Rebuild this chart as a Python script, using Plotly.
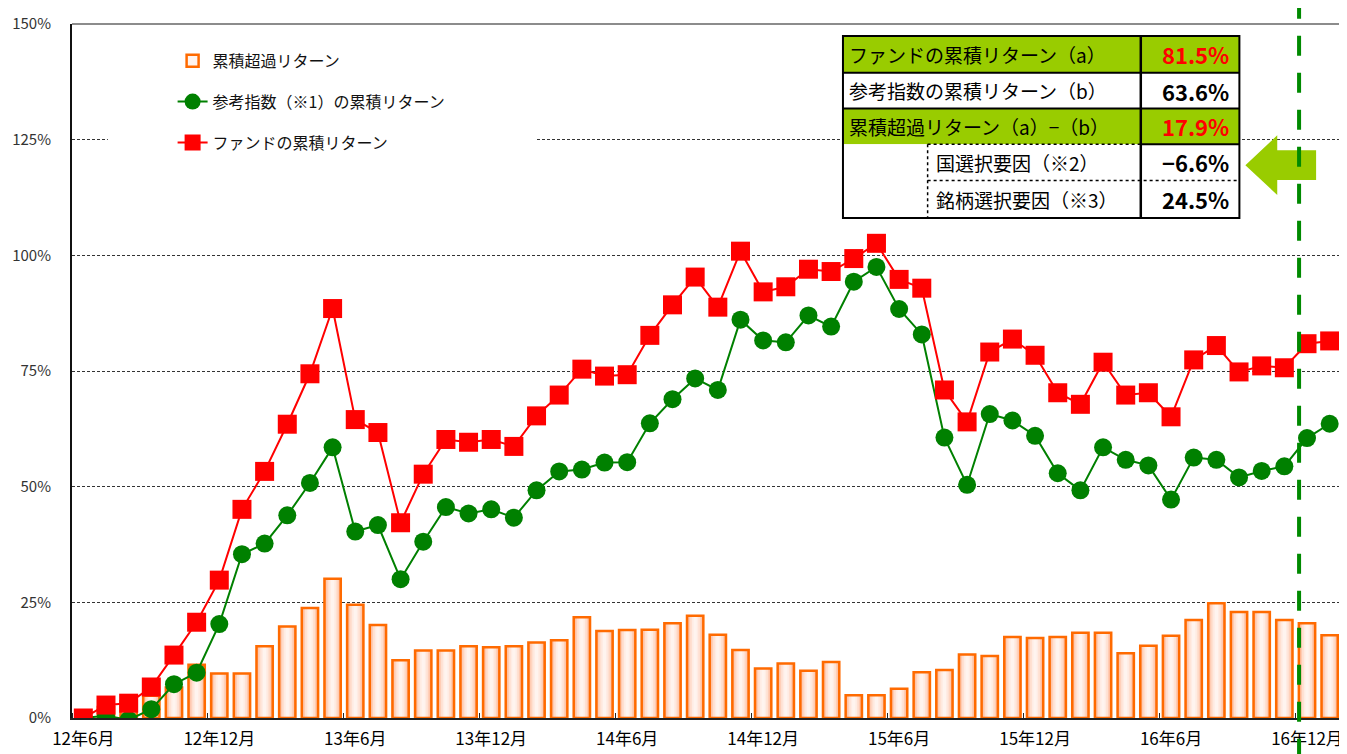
import plotly.graph_objects as go

# ---------------- data ----------------
tick_labels = ["12年6月", "12年12月", "13年6月", "13年12月", "14年6月", "14年12月",
               "15年6月", "15年12月", "16年6月", "16年12月"]

fund = [0, 2.8, 3.2, 6.7, 13.6, 20.7, 29.8, 45.1, 53.3, 63.5,
        74.4, 88.5, 64.5, 61.7, 42.2, 52.7, 60.2, 59.6, 60.2, 58.7,
        65.3, 69.8, 75.4, 73.9, 74.2, 82.7, 89.3, 95.3, 88.8, 100.9,
        92.1, 93.2, 97.0, 96.5, 99.3, 102.6, 94.8, 92.9, 70.9, 64.0,
        79.1, 81.9, 78.4, 70.3, 67.8, 76.9, 69.8, 70.3, 65.1, 77.4,
        80.5, 74.8, 76.1, 75.7, 80.9, 81.5]

benchmark = [0, 0.5, -0.4, 1.9, 7.3, 9.8, 20.3, 35.4, 37.7, 43.8,
             50.8, 58.5, 40.3, 41.7, 30.0, 38.1, 45.6, 44.2, 45.1, 43.3,
             49.2, 53.3, 53.7, 55.2, 55.3, 63.7, 68.9, 73.4, 70.9, 86.1,
             81.6, 81.2, 87.0, 84.6, 94.3, 97.5, 88.4, 82.9, 60.6, 50.4,
             65.7, 64.3, 61.0, 52.9, 49.2, 58.5, 55.8, 54.6, 47.2, 56.3,
             55.8, 52.0, 53.4, 54.4, 60.5, 63.6]

excess = [0, 2.4, 3.6, 4.8, 6.6, 11.5, 9.6, 9.6, 15.5, 19.8,
          23.8, 30.1, 24.5, 20.1, 12.5, 14.6, 14.6, 15.5, 15.3, 15.5,
          16.3, 16.8, 21.8, 18.8, 19.0, 19.1, 20.5, 22.1, 18.0, 14.7,
          10.7, 11.8, 10.2, 12.1, 4.9, 4.9, 6.3, 9.9, 10.4, 13.7,
          13.4, 17.5, 17.3, 17.5, 18.4, 18.4, 14.0, 15.6, 17.8, 21.2,
          24.8, 22.9, 22.9, 21.2, 20.5, 17.9]

y_ticks = [0, 25, 50, 75, 100, 125, 150]

table_rows = ["ファンドの累積リターン（a）", "参考指数の累積リターン（b）",
              "累積超過リターン（a）−（b）", "国選択要因（※2）", "銘柄選択要因（※3）"]
table_vals = ["81.5%", "63.6%", "17.9%", "−6.6%", "24.5%"]

n = len(fund)
xi = list(range(n))
tick_pos = list(range(0, n, 6))[:len(tick_labels)]

JP = "Noto Sans CJK JP"
OFF = 8                      # page body margin of the browser
SW, SH = 1347, 754           # screen size
SL, ST, SR, SB = 69, 20, 1343, 718   # plot area on screen
W, H = SW - OFF, SH - OFF
ML, MT = SL - OFF, ST - OFF
MR, MB = W - (SR - OFF), H - (SB - OFF)
PW, PH = SR - SL, SB - ST


def PX(px):
    return (px - SL) / PW


def PY(py):
    return (SB - py) / PH


fig = go.Figure()

# gradient layers for the bars (widest/darkest first)
BW = 0.72
layers = [(BW, "#ffb48e"), (0.58, "#ffd2bc"), (0.44, "#ffe9de"), (0.28, "#fff7f3"), (0.14, "#ffffff")]
for w, c in layers:
    fig.add_trace(go.Bar(x=xi, y=excess, width=w, marker=dict(color=c, line=dict(width=0)),
                         showlegend=False, legendgroup="g1", hoverinfo="skip"))
fig.add_trace(go.Bar(x=xi, y=excess, width=BW, name="累積超過リターン", legendgroup="g1",
                     marker=dict(color="rgba(255,150,100,0.10)",
                                 line=dict(color="#ff6a00", width=2.5))))
fig.add_trace(go.Scatter(x=xi, y=benchmark, mode="lines+markers", name="参考指数（※1）の累積リターン",
                         legendgroup="g2",
                         line=dict(color="#008000", width=2),
                         marker=dict(symbol="circle", size=18, color="#008000")))
fig.add_trace(go.Scatter(x=xi, y=fund, mode="lines+markers", name="ファンドの累積リターン",
                         legendgroup="g3",
                         line=dict(color="#ff0000", width=2),
                         marker=dict(symbol="square", size=19, color="#ff0000")))

shapes = []
# plot border (top / right) in gray
shapes.append(dict(type="path", xref="paper", yref="paper",
                   path="M0,1 L1,1 L1,0", line=dict(color="#8c8c8c", width=2), layer="between"))
# white legend area (hides the grid line like the original legend box)
shapes.append(dict(type="rect", xref="paper", yref="paper",
                   x0=PX(105), x1=PX(535), y0=PY(160), y1=PY(32),
                   fillcolor="white", line=dict(width=0), layer="above"))

# table
L, M, D, R = 843, 928, 1142, 1241
rows = [32, 69, 105, 141, 177.5, 215]
green = "#99cc00"
for k in (0, 2):
    shapes.append(dict(type="rect", xref="paper", yref="paper",
                       x0=PX(L), x1=PX(R), y0=PY(rows[k + 1]), y1=PY(rows[k]),
                       fillcolor=green, line=dict(width=0), layer="above"))
for k in (1, 3, 4):
    shapes.append(dict(type="rect", xref="paper", yref="paper",
                       x0=PX(L), x1=PX(R), y0=PY(rows[k + 1]), y1=PY(rows[k]),
                       fillcolor="white", line=dict(width=0), layer="above"))


def hline(x0, x1, y, dash="solid", w=2):
    shapes.append(dict(type="line", xref="paper", yref="paper", x0=PX(x0), x1=PX(x1),
                       y0=PY(y), y1=PY(y), line=dict(color="black", width=w, dash=dash), layer="above"))


def vline(x, y0, y1, dash="solid", w=2):
    shapes.append(dict(type="line", xref="paper", yref="paper", x0=PX(x), x1=PX(x),
                       y0=PY(y0), y1=PY(y1), line=dict(color="black", width=w, dash=dash), layer="above"))


hline(L, R, rows[1])
hline(L, R, rows[2])
hline(M, D, rows[3], dash="dot", w=1.5)
hline(D, R, rows[3])
hline(M, R, rows[4], dash="dot", w=1.5)
vline(M, rows[3], rows[5], dash="dot", w=1.5)
vline(D, rows[0], rows[5], w=2.5)
shapes.append(dict(type="rect", xref="paper", yref="paper",
                   x0=PX(L), x1=PX(R), y0=PY(rows[5]), y1=PY(rows[0]),
                   line=dict(color="black", width=2), layer="above"))

# arrow
pts = [(1247, 162), (1279, 132), (1279, 147), (1318, 147), (1318, 177), (1279, 177), (1279, 192)]
path = "M" + " L".join(f"{PX(a):.5f},{PY(b):.5f}" for a, b in pts) + " Z"
shapes.append(dict(type="path", xref="paper", yref="paper", path=path,
                   fillcolor=green, line=dict(width=0), layer="above"))

# dashed vertical marker line
vx = 53.65
xr = (-0.5, n - 0.5)
vxp = (vx - xr[0]) / (xr[1] - xr[0])
shapes.append(dict(type="line", xref="paper", yref="paper", x0=vxp, x1=vxp,
                   y0=PY(SH + 5), y1=PY(-5), line=dict(color="#008a00", width=4, dash="20px,17px"),
                   layer="above"))

annotations = []
centers = [(rows[i] + rows[i + 1]) / 2 for i in range(5)]
for i, (lab, val) in enumerate(zip(table_rows, table_vals)):
    xl = 847 if i < 3 else 934
    annotations.append(dict(xref="paper", yref="paper", x=PX(xl), y=PY(centers[i]),
                            xanchor="left", yanchor="middle", showarrow=False, text=lab,
                            font=dict(family=JP, size=19, color="black")))
    col = "#ff0000" if i in (0, 2) else "black"
    annotations.append(dict(xref="paper", yref="paper", x=PX(1233), y=PY(centers[i]),
                            xanchor="right", yanchor="middle", showarrow=False,
                            text=f"<b>{val}</b>",
                            font=dict(family=JP, size=22, color=col)))

fig.update_layout(
    width=W, height=H,
    margin=dict(l=ML, r=MR, t=MT, b=MB, pad=0),
    paper_bgcolor="white", plot_bgcolor="white",
    barmode="overlay",
    showlegend=True,
    legend=dict(x=PX(170), y=PY(40), xanchor="left", yanchor="top",
                bgcolor="rgba(255,255,255,0)", font=dict(family=JP, size=16, color="#111"),
                tracegroupgap=17, traceorder="grouped"),
    xaxis=dict(range=list(xr), tickmode="array", tickvals=tick_pos, ticktext=tick_labels,
               ticks="", showgrid=False, zeroline=False, showline=True,
               linecolor="#222", linewidth=2, tickfont=dict(family=JP, size=17, color="black"),
               ticklabelstandoff=5,
               minor=dict(tickmode="array", tickvals=[p - 0.5 for p in tick_pos],
                          ticks="inside", ticklen=5, tickcolor="#222", tickwidth=1, showgrid=False)),
    yaxis=dict(range=[0, 150], tickmode="array", tickvals=y_ticks,
               ticktext=[f"{v}%" for v in y_ticks], ticks="", showgrid=True,
               gridcolor="#333", gridwidth=1, griddash="3px,2px", zeroline=False,
               showline=True, linecolor="#111", linewidth=2,
               tickfont=dict(family=JP, size=15, color="#333"), ticklabelstandoff=16),
    shapes=shapes,
    annotations=annotations,
)

fig.write_html("out.html")
